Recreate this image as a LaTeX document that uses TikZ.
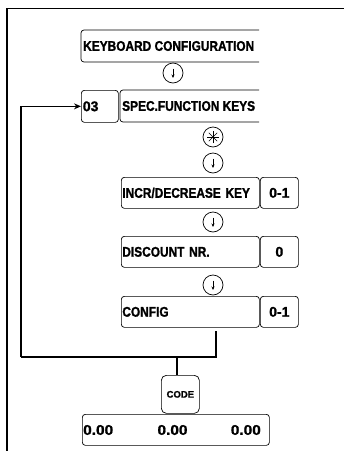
\documentclass[tikz,border=0pt]{standalone}
\usepackage{fontspec}
\newfontfamily\lbl{Liberation Sans Bold}[FakeStretch=0.85, FakeBold=1.3]
\newfontfamily\lblw{Liberation Sans Bold}[FakeBold=1.3]
\newfontfamily\lblx{Liberation Sans Bold}[FakeStretch=1.1, FakeBold=1.3]
\usetikzlibrary{arrows.meta}
\tikzset{
  lblfont/.style={font=\lbl\fontsize{14}{14}\selectfont},
  numfont/.style={font=\lblw\fontsize{14}{14}\selectfont},
  dispfont/.style={font=\lblx\fontsize{14}{14}\selectfont},
  box/.style={draw, line width=0.7pt, rounded corners=3pt, inner sep=0pt, lblfont},
  keycirc/.style={draw, circle, line width=0.7pt, minimum size=20pt, inner sep=0pt},
  conn/.style={line width=1.1pt},
  karrow/.style={line width=0.8pt, -{Stealth[length=3.5pt,width=3pt]}},
}
\begin{document}
\begin{tikzpicture}[x=1pt,y=-1pt]
\useasboundingbox (0,0) rectangle (344,451);
% frame
\draw[line width=1.6pt] (7,451) -- (7,8.5) -- (344,8.5);
% keyboard configuration (open right)
\draw[line width=0.7pt, rounded corners=3pt] (259,30) -- (81,30) -- (81,62) -- (259,62);
\node[anchor=west, lblfont, inner sep=0pt] (kc) at (83,46) {KEYBOARD CONFIGURATION};
\node[keycirc] (c1) at (173,73) {};
\draw[karrow] (173,68.5) -- (173,78);
% row 03
\node[box, numfont, minimum width=37pt, minimum height=32pt, anchor=north west, text width=34pt, align=left] (n03) at (81,90) {03};
\draw[line width=0.7pt, rounded corners=3pt] (259,90) -- (120,90) -- (120,122) -- (259,122);
\node[anchor=west, lblfont, inner sep=0pt] (sfk) at (122,106) {SPEC.FUNCTION KEYS};
% star circle
\node[keycirc] (c2) at (213,137) {};
\foreach \a in {0,45,90,135} \draw[line width=0.6pt] (c2.center) ++(\a:6) -- ++(\a+180:12);
\node[keycirc] (c3) at (213,163) {};
\draw[karrow] (213,158.5) -- (213,168);
% incr/decrease
\node[box, minimum width=138pt, minimum height=31pt, anchor=north west, text width=136pt, align=left] (incr) at (121,177) {INCR/DECREASE KEY};
\node[box, numfont, minimum width=38pt, minimum height=31pt, anchor=north west] (v1) at (260,177) {0-1};
\node[keycirc] (c4) at (213,222) {};
\draw[karrow] (213,217.5) -- (213,227);
% discount
\node[box, minimum width=138pt, minimum height=31pt, anchor=north west, text width=136pt, align=left] (disc) at (121,236) {DISCOUNT NR.};
\node[box, numfont, minimum width=38pt, minimum height=31pt, anchor=north west] (v2) at (260,236) {0};
\node[keycirc] (c5) at (213,285) {};
\draw[karrow] (213,280.5) -- (213,290);
% config
\node[box, minimum width=138pt, minimum height=31pt, anchor=north west, text width=136pt, align=left] (conf) at (121,296) {CONFIG};
\node[box, numfont, minimum width=38pt, minimum height=31pt, anchor=north west] (v3) at (260,296) {0-1};
% connectors
\coordinate (j1) at (216,331);
\coordinate (j2) at (216,357);
\coordinate (j3) at (21,357);
\coordinate (j4) at (177,357);
\draw[conn] (j1) -- (j2) -- (j3);
\draw[conn, -{Stealth[length=7pt,width=6pt]}] (j3) |- (n03.west);
% code
\node[box, minimum width=38pt, minimum height=38pt, anchor=north west, rounded corners=5pt, font=\lblw\fontsize{9.5}{9.5}\selectfont] (code) at (161,375) {CODE};
\draw[conn] (j4) -- (code.north -| j4);
% bottom display
\node[box, minimum width=187pt, minimum height=31pt, anchor=north west] (disp) at (82,414) {};
\node[anchor=west, dispfont, inner sep=0pt] (d1) at (83,430) {0.00};
\node[dispfont, inner sep=0pt] (d2) at (172.5,430) {0.00};
\node[anchor=east, dispfont, inner sep=0pt] (d3) at (261,430) {0.00};
\end{tikzpicture}
\end{document}
